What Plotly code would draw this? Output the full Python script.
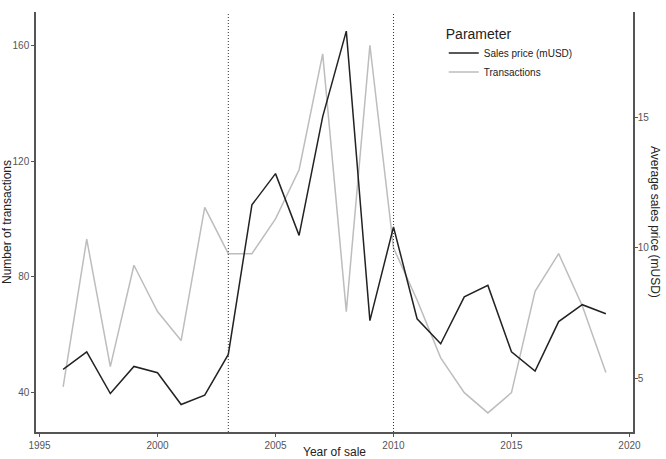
import plotly.graph_objects as go

years = list(range(1996, 2020))
transactions = [42, 93, 49, 84, 68, 58, 104, 88, 88, 100, 117, 157, 68, 160,
                90, 72, 52, 40, 33, 40, 75, 88, 70, 47]
sales_price = [5.34, 6.01, 4.41, 5.45, 5.21, 3.99, 4.35, 5.91, 11.65, 12.85,
               10.48, 15.04, 18.32, 7.21, 10.80, 7.28, 6.32, 8.12, 8.56, 6.01,
               5.27, 7.17, 7.82, 7.47]
period_breaks = [2003, 2010]
x_ticks = [1995, 2000, 2005, 2010, 2015, 2020]
left_ticks = [40, 80, 120, 160]
right_ticks = [5, 10, 15]
scale = 9  # secondary axis = primary / 9

FONT = "Liberation Sans, Arial, sans-serif"
TICK_COL = "#555555"
AXIS_COL = "#555555"
TITLE_COL = "#222222"

fig = go.Figure()
fig.add_trace(go.Scatter(x=years, y=sales_price, mode="lines", name="Sales price (mUSD)",
                         line=dict(color="#222222", width=1.5), yaxis="y2"))
fig.add_trace(go.Scatter(x=years, y=transactions, mode="lines", name="Transactions",
                         line=dict(color="#bdbdbd", width=1.5)))

for b in period_breaks:
    fig.add_vline(x=b, line=dict(color="#333333", width=1, dash="1px,2px"))

lo = min(min(transactions), min(p * scale for p in sales_price))
hi = max(max(transactions), max(p * scale for p in sales_price))
pad = (hi - lo) * 0.05
y_range = [lo - pad, hi + pad]
xpad = (years[-1] - years[0]) * 0.05

axis_common = dict(showgrid=False, zeroline=False, showline=True, linecolor=AXIS_COL,
                   linewidth=1.5, ticks="outside", ticklen=3, tickcolor=AXIS_COL,
                   tickwidth=1, automargin=False,
                   tickfont=dict(family=FONT, size=10, color=TICK_COL))

fig.update_layout(
    width=666, height=459,
    margin=dict(l=36, r=33, t=12, b=27),
    paper_bgcolor="white", plot_bgcolor="white",
    font=dict(family=FONT),
    xaxis=dict(range=[years[0] - xpad, years[-1] + xpad], tickvals=x_ticks,
               title=dict(text="Year of sale", font=dict(size=12, color=TITLE_COL), standoff=13),
               **axis_common),
    yaxis=dict(range=y_range, tickvals=left_ticks,
               title=dict(text="Number of transactions", font=dict(size=12, color=TITLE_COL), standoff=6),
               **axis_common),
    yaxis2=dict(range=[y_range[0] / scale, y_range[1] / scale], tickvals=right_ticks,
                overlaying="y", side="right", ticklabelstandoff=-2, **axis_common),
    legend=dict(title=dict(text="Parameter", font=dict(size=14, color=TITLE_COL)),
                font=dict(size=10, color=TITLE_COL),
                x=0.683, y=0.98, xanchor="left", yanchor="top",
                bgcolor="rgba(0,0,0,0)", traceorder="normal"),
    annotations=[dict(text="Average sales price (mUSD)", textangle=90, xref="paper", yref="paper",
                      x=1, y=0.5, xanchor="center", yanchor="middle", xshift=22,
                      showarrow=False, font=dict(size=12, color=TITLE_COL, family=FONT))],
)

fig.write_html("out.html")
